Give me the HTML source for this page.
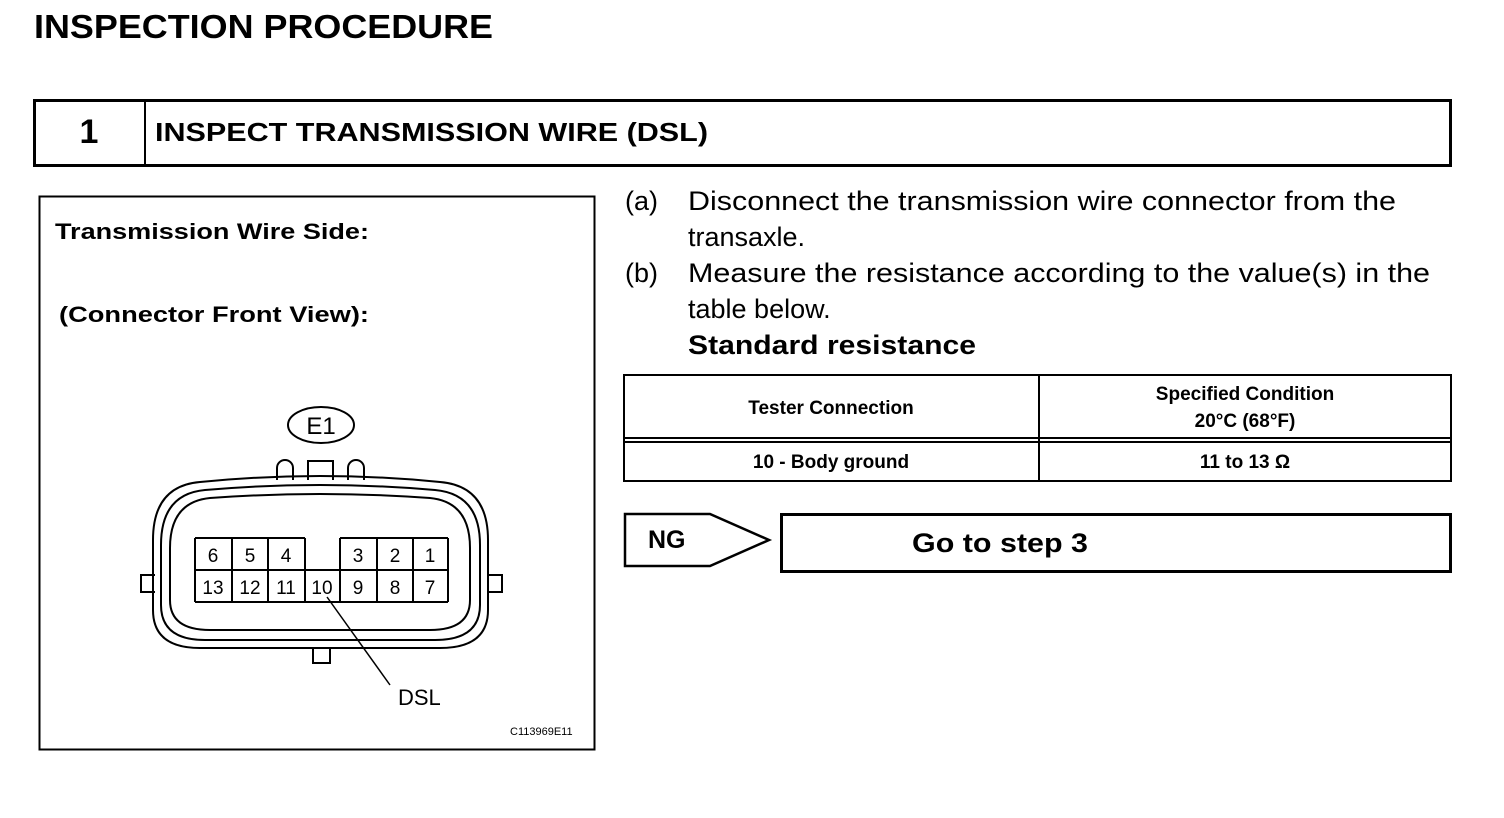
<!DOCTYPE html>
<html><head><meta charset="utf-8"><style>
html,body{margin:0;padding:0;background:#fff;}
svg{display:block;}
text{font-family:"Liberation Sans",Arial,sans-serif;fill:#000;}
</style></head><body>
<svg width="1504" height="818" viewBox="0 0 1504 818" xmlns="http://www.w3.org/2000/svg">
<text x="34" y="38" font-size="33" font-weight="bold" textLength="459" lengthAdjust="spacingAndGlyphs">INSPECTION PROCEDURE</text>
<rect x="34.5" y="100.5" width="1416" height="65" fill="none" stroke="#000" stroke-width="3"/>
<line x1="145" y1="100" x2="145" y2="166" stroke="#000" stroke-width="2"/>
<text x="89" y="143" font-size="34" font-weight="bold" text-anchor="middle">1</text>
<text x="155" y="141" font-size="26" font-weight="bold" textLength="553" lengthAdjust="spacingAndGlyphs">INSPECT TRANSMISSION WIRE (DSL)</text>

<rect x="39.5" y="196.5" width="555" height="553" fill="none" stroke="#000" stroke-width="2"/>
<text x="55" y="239" font-size="22" font-weight="bold" textLength="314" lengthAdjust="spacingAndGlyphs">Transmission Wire Side:</text>
<text x="59" y="322" font-size="22" font-weight="bold" textLength="310" lengthAdjust="spacingAndGlyphs">(Connector Front View):</text>

<g fill="none" stroke="#000" stroke-width="2">
<ellipse cx="321" cy="425" rx="33" ry="18"/>
<path d="M277 480 V468 a8 8 0 0 1 16 0 V480"/>
<path d="M308 480 V461 H333 V480"/>
<path d="M348 480 V468 a8 8 0 0 1 16 0 V480"/>
<path d="M155 575 H141 V592 H155"/>
<path d="M488 575 H502 V592 H488"/>
<path d="M313 648 V663 H330 V648"/>
<path d="M200 482 Q320 470 440 482 Q488 486 488 540 V610 Q488 648 440 648 H200 Q153 648 153 610 V540 Q153 486 200 482 Z"/>
<path d="M205 490 Q320 480 435 490 Q480 494 480 545 V605 Q480 640 435 640 H205 Q161 640 161 605 V545 Q161 494 205 490 Z"/>
<path d="M210 498 Q320 490 430 498 Q470 502 470 548 V600 Q470 630 430 630 H210 Q170 630 170 600 V548 Q170 502 210 498 Z"/>
<path d="M195 538 H305 M340 538 H448 M195 570 H448 M195 602 H448 M195 538 V602 M232 538 V602 M268 538 V602 M305 538 V602 M340 538 V602 M377 538 V602 M413 538 V602 M448 538 V602"/>
<line x1="327" y1="597" x2="390" y2="685" stroke-width="1.5"/>
</g>
<text x="321" y="434" font-size="24" text-anchor="middle">E1</text>
<g font-size="19" text-anchor="middle">
<text x="213" y="562">6</text><text x="250" y="562">5</text><text x="286" y="562">4</text>
<text x="358" y="562">3</text><text x="395" y="562">2</text><text x="430" y="562">1</text>
<text x="213" y="594">13</text><text x="250" y="594">12</text><text x="286" y="594">11</text><text x="322" y="594">10</text>
<text x="358" y="594">9</text><text x="395" y="594">8</text><text x="430" y="594">7</text>
</g>
<text x="398" y="705" font-size="22">DSL</text>
<text x="510" y="735" font-size="11">C113969E11</text>

<g font-size="27">
<text x="625" y="210">(a)</text>
<text x="688" y="210" textLength="708" lengthAdjust="spacingAndGlyphs">Disconnect the transmission wire connector from the</text>
<text x="688" y="246">transaxle.</text>
<text x="625" y="282">(b)</text>
<text x="688" y="282" textLength="742" lengthAdjust="spacingAndGlyphs">Measure the resistance according to the value(s) in the</text>
<text x="688" y="318">table below.</text>
<text x="688" y="354" font-weight="bold" textLength="288" lengthAdjust="spacingAndGlyphs">Standard resistance</text>
</g>

<g fill="none" stroke="#000" stroke-width="2">
<rect x="624" y="375" width="827" height="106"/>
<line x1="1039" y1="375" x2="1039" y2="481"/>
<line x1="624" y1="438" x2="1451" y2="438"/>
<line x1="624" y1="442" x2="1451" y2="442"/>
</g>
<g font-size="19" font-weight="bold" text-anchor="middle">
<text x="831" y="414">Tester Connection</text>
<text x="1245" y="400">Specified Condition</text>
<text x="1245" y="427">20°C (68°F)</text>
<text x="831" y="468">10 - Body ground</text>
<text x="1245" y="468">11 to 13 Ω</text>
</g>

<path d="M625 514 H710 L769 540 L710 566 H625 Z" fill="none" stroke="#000" stroke-width="2.5"/>
<text x="648" y="548" font-size="25" font-weight="bold">NG</text>
<rect x="781.5" y="514.5" width="669" height="57" fill="none" stroke="#000" stroke-width="3"/>
<text x="912" y="552" font-size="27" font-weight="bold" textLength="176" lengthAdjust="spacingAndGlyphs">Go to step 3</text>
</svg>
</body></html>
